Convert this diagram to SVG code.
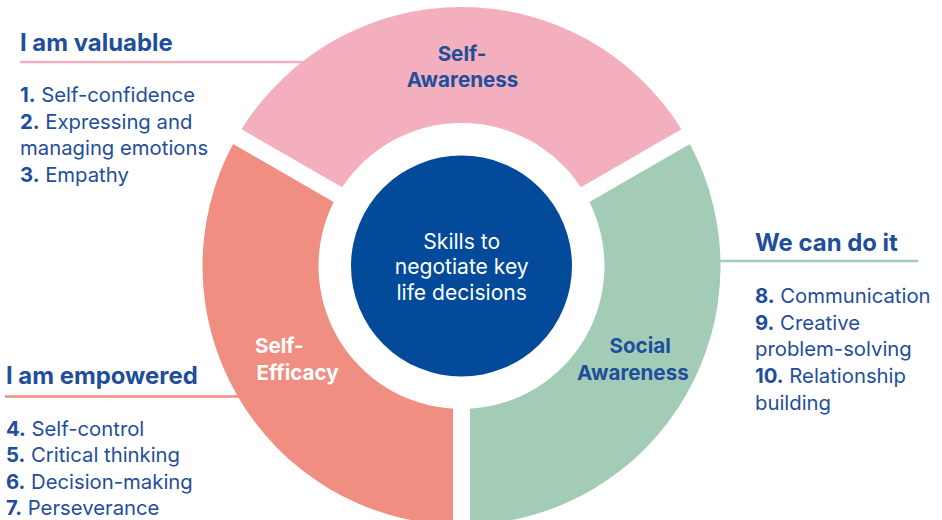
<svg xmlns="http://www.w3.org/2000/svg" width="942" height="520" viewBox="0 0 942 520">
<style>
.h{font-family:Inter,"Noto Sans",sans-serif;font-weight:700;font-size:23.9px;fill:#1F4E9B}
.t{font-family:Inter,"Noto Sans",sans-serif;font-size:20.3px;fill:#1F4E9B}
.t tspan.b{font-weight:700}
.seg{font-family:Inter,"Noto Sans",sans-serif;font-weight:700;font-size:20.6px}
.c{font-family:Inter,"Noto Sans",sans-serif;font-size:21.1px;fill:#ffffff}
</style>
<rect width="942" height="520" fill="#ffffff"/>
<g id="connectors" stroke-width="2.7" fill="none">
<line x1="20" y1="62" x2="320" y2="62" stroke="#F3AFBD"/>
<line x1="5" y1="396.5" x2="260" y2="396.5" stroke="#F08E82"/>
<line x1="700" y1="261" x2="918" y2="261" stroke="#A3CCB7"/>
</g>
<g id="self-awareness">
<path d="M 241.57 129.21 A 259 259 0 0 1 681.43 129.21 L 580.87 187.26 A 143 143 0 0 0 342.13 187.26 Z" fill="#F3AFBD"/>
<text class="seg" fill="#1F4E9B" text-anchor="middle"><tspan x="462" y="61">Self-</tspan><tspan x="462.5" y="87">Awareness</tspan></text>
</g>
<g id="self-efficacy">
<path d="M 453 524.86 A 259 259 0 0 1 233.07 143.93 L 333.63 201.99 A 143 143 0 0 0 453 408.75 Z" fill="#F08E82"/>
<text class="seg" fill="#ffffff"><tspan x="255" y="353.3">Self-</tspan><tspan x="256.5" y="380">Efficacy</tspan></text>
</g>
<g id="social-awareness">
<path d="M 689.93 143.93 A 259 259 0 0 1 470 524.86 L 470 408.75 A 143 143 0 0 0 589.37 201.99 Z" fill="#A3CCB7"/>
<text class="seg" fill="#1F4E9B"><tspan x="609.5" y="353.3">Social</tspan><tspan x="577" y="380">Awareness</tspan></text>
</g>
<g id="center">
<circle cx="461.5" cy="266" r="110.5" fill="#034A9A"/>
<text class="c" text-anchor="middle"><tspan x="461.7" y="249.3">Skills to</tspan><tspan x="461.7" y="274.3">negotiate key</tspan><tspan x="461.7" y="299.5">life decisions</tspan></text>
</g>
<g id="i-am-valuable">
<text class="h" x="20" y="50.5">I am valuable</text>
<text class="t"><tspan x="20" y="102"><tspan class="b">1.</tspan> Self-confidence</tspan><tspan x="20" y="128.5"><tspan class="b">2.</tspan> Expressing and</tspan><tspan x="20" y="155">managing emotions</tspan><tspan x="20" y="181.5"><tspan class="b">3.</tspan> Empathy</tspan></text>
</g>
<g id="i-am-empowered">
<text class="h" x="6" y="384">I am empowered</text>
<text class="t"><tspan x="6" y="436"><tspan class="b">4.</tspan> Self-control</tspan><tspan x="6" y="462"><tspan class="b">5.</tspan> Critical thinking</tspan><tspan x="6" y="488.5"><tspan class="b">6.</tspan> Decision-making</tspan><tspan x="6" y="515"><tspan class="b">7.</tspan> Perseverance</tspan></text>
</g>
<g id="we-can-do-it">
<text class="h" x="755" y="250.5">We can do it</text>
<text class="t"><tspan x="755" y="302.5"><tspan class="b">8.</tspan> Communication</tspan><tspan x="755" y="329.5"><tspan class="b">9.</tspan> Creative</tspan><tspan x="755" y="356">problem-solving</tspan><tspan x="755" y="383"><tspan class="b">10.</tspan> Relationship</tspan><tspan x="755" y="409.5">building</tspan></text>
</g>
</svg>
